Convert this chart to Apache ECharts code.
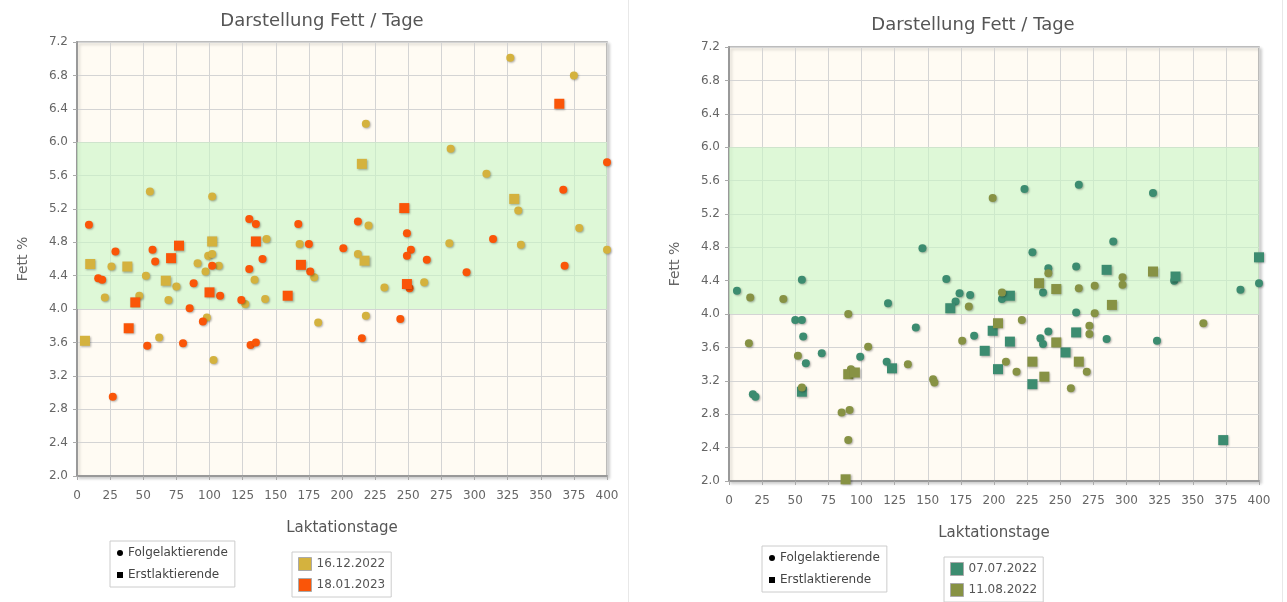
<!DOCTYPE html>
<html>
<head>
<meta charset="utf-8">
<script src="https://cdn.jsdelivr.net/npm/echarts@6/dist/echarts.min.js"></script>
<style>
  html, body { margin: 0; padding: 0; background: #fff; }
  #main { width: 1287px; height: 602px; }
</style>
</head>
<body>
<div id="main"></div>
<script>
// axis ranges / ticks
const xMin = 0, xMax = 400, xStep = 25
const yMin = 2.0, yMax = 7.2, yStep = 0.4
const bandLow = 4.0, bandHigh = 6.0   // green target band

const chartTitle = 'Darstellung Fett / Tage'
const xName = 'Laktationstage'
const yName = 'Fett %'
const typeNames = ['Folgelaktierende', 'Erstlaktierende']
const leftDates = ['16.12.2022', '18.01.2023']
const rightDates = ['07.07.2022', '11.08.2022']

// left chart, [Laktationstage, Fett %]
const dec16Folge = [[55,5.41],[102,5.35],[143,4.84],[168,4.78],[26,4.51],[91,4.55],[99,4.64],[102,4.66],
  [107,4.52],[97,4.45],[179,4.38],[52,4.40],[75,4.27],[134,4.35],[21,4.14],[47,4.16],[69,4.11],[127,4.06],
  [142,4.12],[98,3.90],[182,3.84],[62,3.66],[103,3.39],[282,5.92],[309,5.62],[333,5.18],[220,5.00],
  [379,4.97],[281,4.79],[335,4.77],[212,4.66],[400,4.71],[232,4.26],[262,4.32],[218,3.92],[327,7.01],
  [375,6.80],[218,6.22]]
const dec16Erst = [[102,4.81],[10,4.54],[38,4.51],[67,4.34],[6,3.62],[215,5.74],[330,5.32],[217,4.58]]
const jan18Folge = [[9,5.01],[130,5.08],[135,5.02],[167,5.02],[175,4.78],[29,4.69],[57,4.71],[59,4.57],
  [102,4.52],[130,4.48],[140,4.60],[176,4.45],[16,4.37],[19,4.35],[88,4.31],[108,4.16],[124,4.11],[85,4.01],
  [95,3.85],[53,3.56],[80,3.59],[131,3.57],[135,3.60],[27,2.95],[367,5.43],[400,5.76],[212,5.05],[249,4.91],
  [201,4.73],[314,4.84],[252,4.71],[249,4.64],[264,4.59],[294,4.44],[368,4.52],[251,4.25],[244,3.88],[215,3.65]]
const jan18Erst = [[135,4.81],[77,4.76],[71,4.61],[169,4.53],[100,4.20],[44,4.08],[159,4.16],[39,3.77],
  [247,5.21],[249,4.30],[364,6.46]]

// right chart
const jul07Folge = [[146,4.79],[55,4.41],[164,4.42],[6,4.28],[120,4.13],[174,4.25],[182,4.23],[171,4.15],
  [50,3.93],[55,3.93],[56,3.73],[141,3.84],[58,3.41],[70,3.53],[99,3.49],[119,3.43],[185,3.74],[18,3.04],
  [20,3.01],[223,5.50],[264,5.55],[320,5.45],[290,4.87],[229,4.74],[241,4.55],[262,4.57],[336,4.40],
  [237,4.26],[386,4.29],[400,4.37],[206,4.18],[262,4.02],[241,3.79],[285,3.70],[323,3.68],[235,3.71],[237,3.64]]
const jul07Erst = [[167,4.07],[123,3.35],[55,3.07],[193,3.56],[199,3.80],[285,4.53],[337,4.45],[212,4.22],
  [262,3.78],[212,3.67],[254,3.54],[203,3.34],[229,3.16],[373,2.49],[400,4.68]]
const aug11Folge = [[199,5.39],[16,4.20],[41,4.18],[181,4.09],[90,4.00],[15,3.65],[52,3.50],[105,3.61],
  [135,3.40],[92,3.34],[176,3.68],[154,3.22],[155,3.18],[55,3.12],[85,2.82],[91,2.85],[90,2.49],[241,4.49],
  [297,4.44],[297,4.35],[264,4.31],[276,4.34],[206,4.26],[276,4.01],[221,3.93],[272,3.86],[272,3.76],
  [358,3.89],[209,3.43],[217,3.31],[270,3.31],[258,3.11]]
const aug11Erst = [[90,3.28],[95,3.30],[88,2.02],[320,4.51],[234,4.37],[247,4.30],[289,4.11],[203,3.89],
  [247,3.66],[229,3.43],[264,3.43],[238,3.25]]

const colGold = '#d4b23e', colOrange = '#fa5508', colTeal = '#3c8c70', colOlive = '#879244'

function pts(name, data, symbol, color, idx) {
  return {
    type: 'scatter', name: name, data: data, symbol: symbol,
    symbolSize: symbol === 'rect' ? 10 : 8,
    xAxisIndex: idx, yAxisIndex: idx, z: 3,
    itemStyle: { color: color, opacity: 1, shadowColor: 'rgba(0,0,0,0.3)', shadowBlur: 2, shadowOffsetX: 1, shadowOffsetY: 1 }
  }
}
function band(s) {
  s.markArea = {
    silent: true,
    itemStyle: { color: 'rgba(200,246,196,0.6)' },
    data: [[{ yAxis: bandLow }, { yAxis: bandHigh }]]
  }
  return s
}
function xAx(idx) {
  return {
    type: 'value', gridIndex: idx, min: xMin, max: xMax, interval: xStep,
    name: xName, nameLocation: 'middle', nameGap: 45,
    nameTextStyle: { fontSize: 15, color: '#555', fontFamily: 'DejaVu Sans' },
    axisLine: { lineStyle: { color: '#999', width: 2 } },
    axisTick: { show: true, length: 4, lineStyle: { color: '#aaa' } },
    axisLabel: { color: '#666', fontSize: 12, fontFamily: 'DejaVu Sans', margin: 14 },
    splitLine: { lineStyle: { color: '#d4d4d4' } }
  }
}
function yAx(idx) {
  return {
    type: 'value', gridIndex: idx, min: yMin, max: yMax, interval: yStep,
    name: yName, nameLocation: 'middle', nameGap: 47,
    nameTextStyle: { fontSize: 14, color: '#666', fontFamily: 'DejaVu Sans' },
    axisLine: { show: true, lineStyle: { color: '#999', width: 2 } },
    axisTick: { show: true, length: 4, lineStyle: { color: '#aaa' } },
    axisLabel: { color: '#666', fontSize: 12, fontFamily: 'DejaVu Sans', margin: 9,
      formatter: v => v.toFixed(1) },
    splitLine: { lineStyle: { color: '#d4d4d4' } }
  }
}
function gridAt(left, top) {
  return {
    left: left, top: top, width: 530, height: 434, show: true,
    backgroundColor: '#fffbf3', borderColor: '#a8a8a8', borderWidth: 1.5,
    shadowColor: 'rgba(0,0,0,0.18)', shadowBlur: 3, shadowOffsetX: 2, shadowOffsetY: 2
  }
}
function typeLegend(left, top) {
  return {
    left: left, top: top, orient: 'vertical', selectedMode: false,
    backgroundColor: '#fff', borderColor: '#ccc', borderWidth: 1, padding: [6, 7], itemGap: 10,
    itemWidth: 6, itemHeight: 6,
    textStyle: { fontSize: 12, color: '#444', fontFamily: 'DejaVu Sans' },
    data: [{ name: typeNames[0], icon: 'circle' }, { name: typeNames[1], icon: 'rect' }]
  }
}
function dateLegend(left, top, dates) {
  return {
    left: left, top: top, orient: 'vertical', selectedMode: false,
    backgroundColor: '#fff', borderColor: '#ccc', borderWidth: 1, padding: [5, 6], itemGap: 7,
    itemWidth: 13, itemHeight: 13,
    itemStyle: { opacity: 1, borderColor: '#aaa', borderWidth: 1, shadowBlur: 0, shadowOffsetX: 0, shadowOffsetY: 0 },
    textStyle: { fontSize: 12, color: '#555', fontFamily: 'DejaVu Sans' },
    data: dates.map(d => ({ name: d, icon: 'rect' }))
  }
}

const chart = echarts.init(document.getElementById('main'))
chart.setOption({
  backgroundColor: '#fff',
  animation: false,
  title: [
    { text: chartTitle, left: 317, top: 7, textAlign: 'center',
      textStyle: { fontSize: 18, fontWeight: 'normal', color: '#555', fontFamily: 'DejaVu Sans' } },
    { text: chartTitle, left: 968, top: 11, textAlign: 'center',
      textStyle: { fontSize: 18, fontWeight: 'normal', color: '#555', fontFamily: 'DejaVu Sans' } }
  ],
  grid: [gridAt(77, 42), gridAt(729, 47)],
  xAxis: [xAx(0), xAx(1)],
  yAxis: [yAx(0), yAx(1)],
  legend: [
    typeLegend(110, 541), dateLegend(292, 552, leftDates),
    typeLegend(762, 546), dateLegend(944, 557, rightDates)
  ],
  graphic: [
    { type: 'line', shape: { x1: 628.5, y1: 0, x2: 628.5, y2: 602 }, style: { stroke: '#e8e8e8' } },
    { type: 'line', shape: { x1: 1282.5, y1: 0, x2: 1282.5, y2: 602 }, style: { stroke: '#e8e8e8' } }
  ],
  series: [
    { type: 'scatter', name: typeNames[0], data: [], symbol: 'circle', itemStyle: { color: '#000', opacity: 1 } },
    { type: 'scatter', name: typeNames[1], data: [], symbol: 'rect', itemStyle: { color: '#000', opacity: 1 } },
    band(pts(leftDates[0], dec16Folge, 'circle', colGold, 0)),
    pts(leftDates[0], dec16Erst, 'rect', colGold, 0),
    pts(leftDates[1], jan18Folge, 'circle', colOrange, 0),
    pts(leftDates[1], jan18Erst, 'rect', colOrange, 0),
    band(pts(rightDates[0], jul07Folge, 'circle', colTeal, 1)),
    pts(rightDates[0], jul07Erst, 'rect', colTeal, 1),
    pts(rightDates[1], aug11Folge, 'circle', colOlive, 1),
    pts(rightDates[1], aug11Erst, 'rect', colOlive, 1)
  ]
})
</script>
</body>
</html>
